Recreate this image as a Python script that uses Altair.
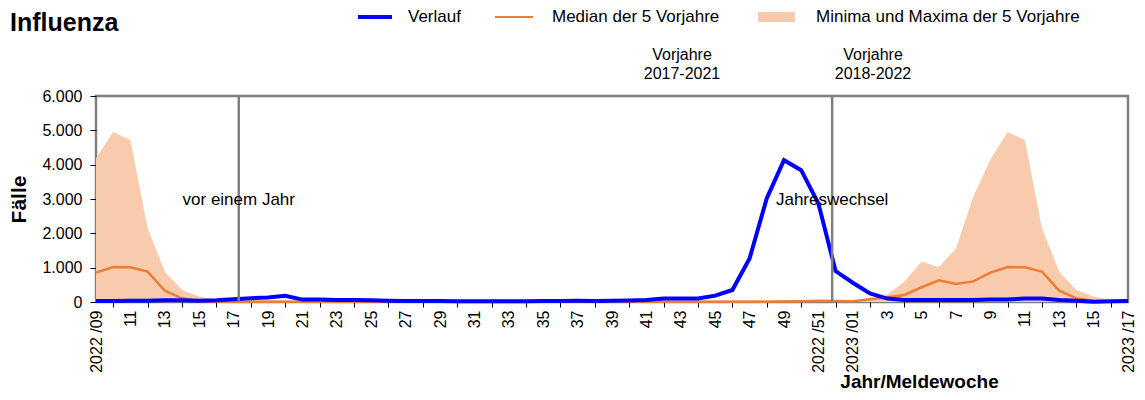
import altair as alt
import pandas as pd

# ---------------- data ----------------
axis_labels = ["2022 /09", "", "11", "", "13", "", "15", "", "17", "", "19", "", "21", "", "23", "",
               "25", "", "27", "", "29", "", "31", "", "33", "", "35", "", "37", "", "39", "",
               "41", "", "43", "", "45", "", "47", "", "49", "", "2022 /51", "",
               "2023 /01", "", "3", "", "5", "", "7", "", "9", "", "11", "", "13", "", "15", "",
               "2023 /17"]

verlauf = [30, 30, 40, 40, 50, 50, 40, 50, 80, 110, 130, 180, 70, 70, 60, 60,
           50, 40, 30, 30, 30, 25, 25, 25, 25, 25, 30, 30, 35, 30, 40, 45,
           60, 105, 100, 100, 185, 350, 1270, 3020, 4130, 3840, 2870, 900,
           560, 250, 100, 60, 60, 60, 60, 60, 70, 70, 100, 100, 60, 40, 10, 20,
           30]

median = [855, 1020, 1010, 885, 330, 107, 30, 15, 10, 8, 6, 5, 5, 5, 5, 5,
          5, 5, 5, 5, 5, 5, 5, 5, 5, 5, 5, 5, 5, 5, 5, 5,
          5, 8, 10, 10, 10, 10, 10, 10, 15, 20, 35, 30,
          20, 80, 140, 205, 430, 630, 525, 600, 855, 1020, 1010, 885, 330, 107, 30, 20,
          10]

maximum = [4190, 4950, 4720, 2150, 880, 350, 160, 60, 40, 30, 25, 20, 20, 20, 20, 20,
           20, 20, 20, 20, 20, 20, 20, 20, 20, 20, 20, 20, 20, 20, 20, 20,
           25, 30, 30, 30, 30, 30, 30, 35, 40, 40, 50, 40,
           40, 90, 220, 590, 1180, 1010, 1560, 3060, 4150, 4950, 4720, 2150, 880, 350, 160, 60,
           40]

minimum = [0, 0, 0, 0, 0, 0, 0, 0, 0, 0, 0, 0, 0, 0, 0, 0,
           0, 0, 0, 0, 0, 0, 0, 0, 0, 0, 0, 0, 0, 0, 0, 0,
           0, 0, 0, 0, 0, 0, 0, 0, 0, 0, 0, 0,
           0, 0, 0, 0, 0, 0, 0, 0, 0, 0, 0, 0, 0, 0, 0, 0,
           0]

week_index = list(range(len(axis_labels)))

marker_positions = [8.3, 42.8]           # "vor einem Jahr", "Jahreswechsel"
marker_texts = ["vor einem Jahr", "Jahreswechsel"]
marker_text_y = [2970, 2970]

df = pd.DataFrame({"i": week_index, "verlauf": verlauf, "median": median,
                   "lo": minimum, "hi": maximum})
markers = pd.DataFrame({"i": marker_positions, "v": marker_text_y, "text": marker_texts})

# ---------------- styles ----------------
FONT = "Liberation Sans"
BLUE = "#0000FF"
ORANGE = "#ED7D31"
PEACH = "#F8CBAD"
GRAY = "#808080"

labels_js = "[" + ",".join("'" + s + "'" for s in axis_labels) + "]"

x_scale = alt.Scale(domain=[0, 60], nice=False, zero=False)
y_scale = alt.Scale(domain=[0, 6000], nice=False)

x_axis = alt.Axis(
    values=week_index, labelExpr=labels_js + "[datum.value]", labelAngle=270,
    labelOverlap=False, labelFlush=False, labelBound=False,
    labelFont=FONT, labelFontSize=16, labelColor="#000", labelPadding=3,
    tickSize=5, tickColor="#000", tickWidth=1,
    tickOpacity={"condition": {"test": "datum.value % 2 == 1", "value": 1}, "value": 0},
    domain=False, grid=False,
    title="Jahr/Meldewoche", titleFont=FONT, titleFontSize=19, titleFontWeight="bold",
    titleColor="#000", titleX=823, titleY=79, titleAlign="center", titleBaseline="middle",
)
y_axis = alt.Axis(
    values=[0, 1000, 2000, 3000, 4000, 5000, 6000],
    labelExpr="replace(format(datum.value, ',d'), ',', '.')",
    labelFont=FONT, labelFontSize=16, labelColor="#000", labelPadding=8,
    tickSize=6, tickColor="#000", tickWidth=1,
    domain=False, grid=False,
    title="Fälle", titleFont=FONT, titleFontSize=21, titleFontWeight="bold",
    titleColor="#000", titleX=-77, titleY=103, titleAngle=270,
    titleAlign="center", titleBaseline="middle",
)


def X(field):
    return alt.X(f"{field}:Q", scale=x_scale, axis=x_axis)


def Y(field):
    return alt.Y(f"{field}:Q", scale=y_scale, axis=y_axis)


base = alt.Chart(df)

area = base.mark_area(color=PEACH, opacity=1).encode(x=X("i"), y=Y("lo"), y2="hi:Q")
med_line = base.mark_line(color=ORANGE, strokeWidth=2.5).encode(x=X("i"), y=Y("median"))
blue_line = base.mark_line(color=BLUE, strokeWidth=4).encode(x=X("i"), y=Y("verlauf"))

vlines = alt.Chart(markers).mark_rule(color=GRAY, strokeWidth=2.5).encode(x=X("i"))
vtexts = alt.Chart(markers).mark_text(font=FONT, fontSize=17, color="#000",
                                      align="center", baseline="middle").encode(
    x=X("i"), y=Y("v"), text="text:N")

one = alt.Data(values=[{}])


def label(txt, x, y, size=17, weight="normal", align="left", baseline="middle"):
    return alt.Chart(one).mark_text(font=FONT, fontSize=size, fontWeight=weight, color="#000",
                                    align=align, baseline=baseline).encode(
        x=alt.value(x), y=alt.value(y), text=alt.value(txt))


title = label("Influenza", -86, -65, size=25, weight="bold", baseline="alphabetic")

leg_blue = alt.Chart(one).mark_rule(color=BLUE, strokeWidth=4).encode(
    x=alt.value(262), x2=alt.value(296), y=alt.value(-79))
leg_orange = alt.Chart(one).mark_rule(color=ORANGE, strokeWidth=2).encode(
    x=alt.value(399), x2=alt.value(437), y=alt.value(-79))
leg_peach = alt.Chart(one).mark_rect(color=PEACH).encode(
    x=alt.value(662), x2=alt.value(699), y=alt.value(-84), y2=alt.value(-74))
leg_t1 = label("Verlauf", 312, -79)
leg_t2 = label("Median der 5 Vorjahre", 456, -79)
leg_t3 = label("Minima und Maxima der 5 Vorjahre", 720, -79)

vj1a = label("Vorjahre", 586, -41, size=16, align="center")
vj1b = label("2017-2021", 586, -22, size=16, align="center")
vj2a = label("Vorjahre", 777, -41, size=16, align="center")
vj2b = label("2018-2022", 777, -22, size=16, align="center")

chart = alt.layer(
    area, med_line, blue_line, vlines, vtexts,
    title, leg_blue, leg_orange, leg_peach, leg_t1, leg_t2, leg_t3,
    vj1a, vj1b, vj2a, vj2b,
).properties(
    width=1032, height=206,
    autosize=alt.AutoSizeParams(type="none"),
    padding={"left": 88, "top": 88, "right": 9, "bottom": 89},
).configure(font=FONT).configure_view(stroke=GRAY, strokeWidth=2.5)

chart.save("out.html", embed_options={"renderer": "svg", "actions": False})
